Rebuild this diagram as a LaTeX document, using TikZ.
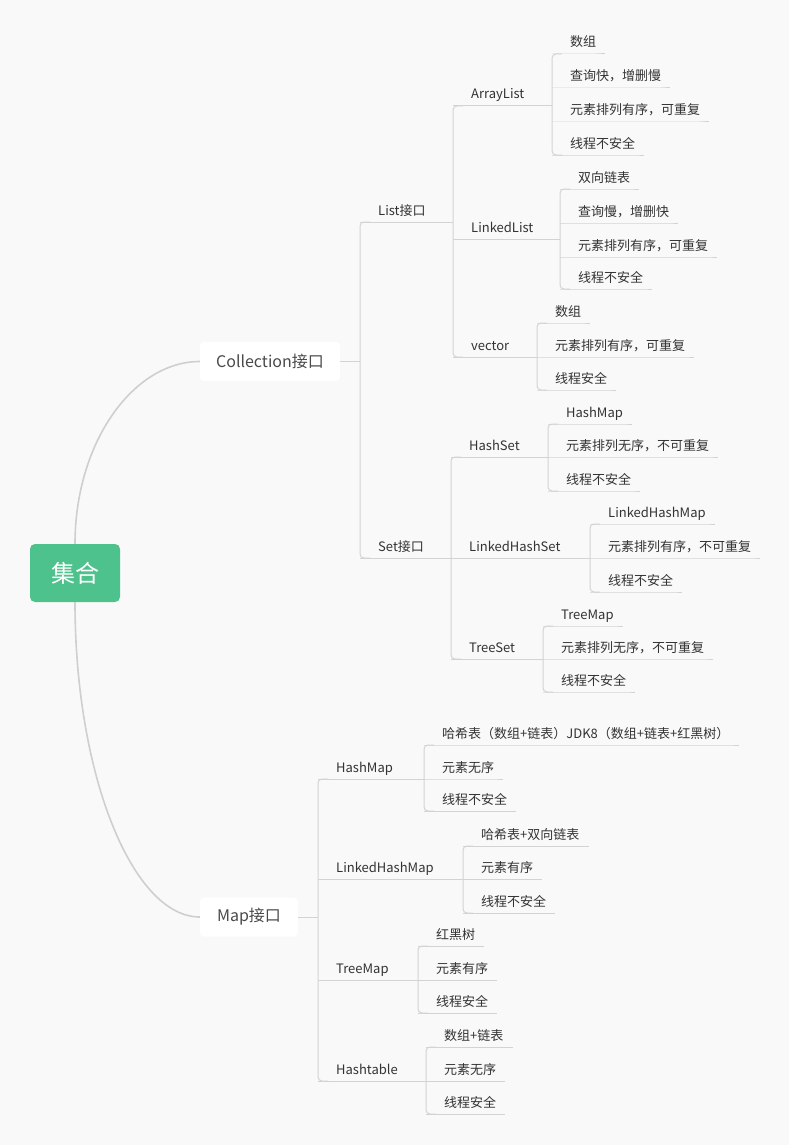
\documentclass[tikz,border=0pt]{standalone}
\usepackage{fontspec}
\setmainfont{Noto Sans CJK SC}
\usepackage{tikz}
\usetikzlibrary{calc}
\usepackage{xcolor}
\definecolor{MapBg}{HTML}{F9F9F9}
\definecolor{MapGreen}{HTML}{4EC28C}
\definecolor{MapLine}{HTML}{D3D3D3}
\definecolor{MapCurve}{HTML}{CFCFCF}
\definecolor{MapText}{HTML}{333333}
\definecolor{MapBoxText}{HTML}{4A4A4A}

\begin{document}
\begin{tikzpicture}[x=1pt,y=-1pt,
    leaf/.style={font=\fontsize{13}{13}\selectfont,text=MapText,inner sep=0pt,anchor=base west},
    uline/.style={draw=MapLine,line width=1pt},
    bar/.style={draw=MapLine,line width=1pt,rounded corners=4pt},
    topic/.style={rounded corners=4pt,fill=white,font=\fontsize{16}{16}\selectfont,text=MapBoxText,minimum height=39pt,inner xsep=0pt},
    rootbox/.style={rounded corners=5pt,fill=MapGreen,text=white,font=\fontsize{24}{24}\selectfont,minimum width=90pt,minimum height=58pt},
    link/.style={draw=MapCurve,line width=1.6pt}]
    \fill[MapBg] (0,0) rectangle (789,1145);
    \useasboundingbox (0,0) rectangle (789,1145);
    % main topics
    \node[rootbox] (root) at (75,573) {集合};
    \node[topic,minimum width=140pt] (coll) at (270,361.5) {Collection接口};
    \node[topic,minimum width=98pt] (map) at (249,917) {Map接口};
    \draw[link] (root.north) .. controls (75,443) and (133,361.5) .. (coll.west);
    \draw[link] (root.south) .. controls (75,776) and (133,917) .. (map.west);
    % sub topics (underline starts at the bar)
    \foreach \nm/\bx/\yy/\txt in {lst/360/222/List接口,st/360/558/Set接口,
        al/453/106/ArrayList,ll/453/239/LinkedList,vec/453/357/vector,
        hs/451/457/HashSet,lhs/451/558/LinkedHashSet,ts/451/659/TreeSet,
        hm/318/779/HashMap,lhm/318/879/LinkedHashMap,tm/318/980/TreeMap,ht/318/1081/Hashtable}{
      \coordinate (\nm-u) at (\bx,\yy);
      \node[leaf] (\nm) at (\bx+18,\yy-7) {\txt};
    }
    % leaves
    \foreach \nm/\bx/\yy/\txt in {a1/552/54/数组,a2/552/88/查询快，增删慢,a3/552/122/元素排列有序，可重复,a4/552/155/线程不安全,
        b1/560/189/双向链表,b2/560/223/查询慢，增删快,b3/560/257/元素排列有序，可重复,b4/560/289/线程不安全,
        c1/537/323/数组,c2/537/357/元素排列有序，可重复,c3/537/390/线程安全,
        d1/548/424/HashMap,d2/548/457/元素排列无序，不可重复,d3/548/491/线程不安全,
        e1/590/524/LinkedHashMap,e2/590/558/元素排列有序，不可重复,e3/590/592/线程不安全,
        f1/543/626/TreeMap,f2/543/659/元素排列无序，不可重复,f3/543/692/线程不安全,
        g1/424/745/哈希表（数组+链表）JDK8（数组+链表+红黑树）,g2/424/779/元素无序,g3/424/811/线程不安全,
        h1/463/846/哈希表+双向链表,h2/463/879/元素有序,h3/463/913/线程不安全,
        i1/418/946/红黑树,i2/418/980/元素有序,i3/418/1013/线程安全,
        j1/426/1047/数组+链表,j2/426/1081/元素无序,j3/426/1114/线程安全}{
      \coordinate (\nm-u) at (\bx,\yy);
      \node[leaf] (\nm) at (\bx+18,\yy-7) {\txt};
      \draw[uline] (\nm-u) -- (\nm.east |- \nm-u) -- ++(9,0);
    }
    % connectors
    \draw[uline] (coll.east) -- (lst-u |- coll.east);
    \draw[uline] (map.east) -- (hm-u |- map.east);
    \draw[bar] ([xshift=10pt]lst-u) -- (lst-u) -- (st-u) -- ([xshift=10pt]st-u);
    \draw[bar] ([xshift=10pt]hm-u) -- (hm-u) -- (ht-u) -- ([xshift=10pt]ht-u);
    \foreach \p/\f/\l in {lst/al/vec,st/hs/ts,al/a1/a4,ll/b1/b4,vec/c1/c3,hs/d1/d3,lhs/e1/e3,ts/f1/f3,
        hm/g1/g3,lhm/h1/h3,tm/i1/i3,ht/j1/j3}{
      \draw[uline] (\p-u) -- (\f-u |- \p-u);
      \draw[bar] ([xshift=10pt]\f-u) -- (\f-u) -- (\l-u) -- ([xshift=10pt]\l-u);
    }
\end{tikzpicture}
\end{document}
